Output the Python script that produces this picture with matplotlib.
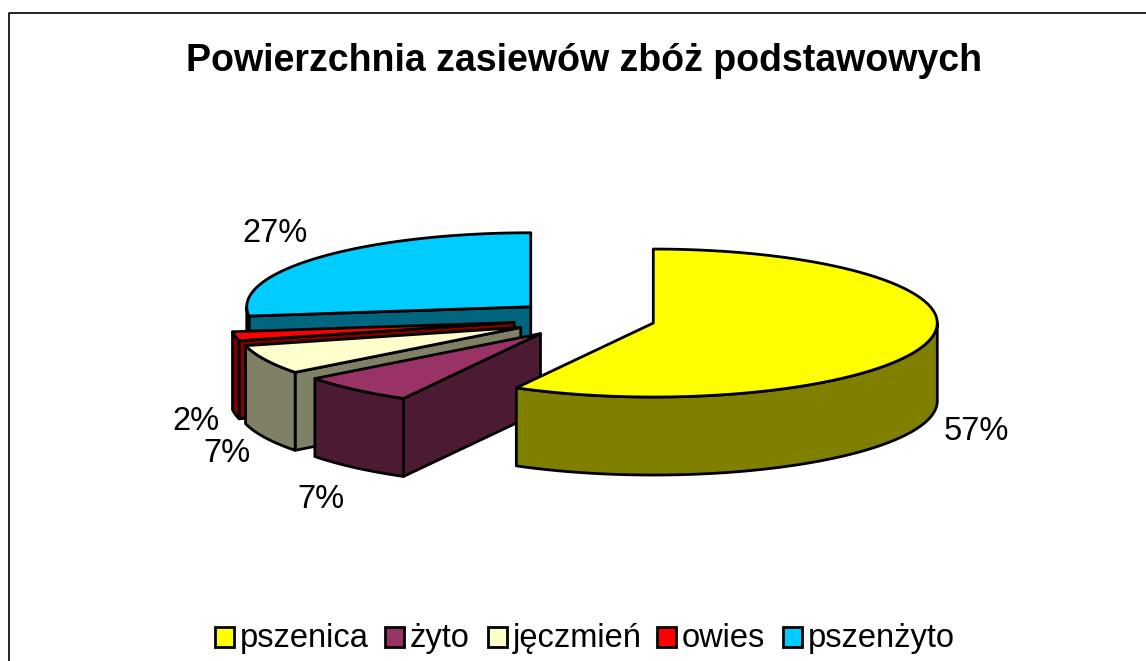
import numpy as np
import matplotlib
matplotlib.use("Agg")
import matplotlib.pyplot as plt
from matplotlib.patches import Polygon, Rectangle

plt.rcParams['font.family'] = ['Liberation Sans', 'DejaVu Sans']

# Data
categories = ["pszenica", "żyto", "jęczmień", "owies", "pszenżyto"]
values = [57, 7, 7, 2, 27]
value_labels = ["57%", "7%", "7%", "2%", "27%"]
title = "Powierzchnia zasiewów zbóż podstawowych"

top_colors = ["#FFFF00", "#993366", "#FFFFCC", "#FF0000", "#00CCFF"]
side_colors = ["#808000", "#4D1A33", "#808066", "#800000", "#006680"]

# Pie layout, in pixels of the 1146x661 picture
center_x, center_y = 584, 319
rx, ry = 284, 74
depth = 78
explode = 0.25
warp1, warp2 = 2.8, 1.5  # perspective skew of the angles, degrees
label_pos = [(976, 431), (321, 500), (227, 454), (196, 422), (275, 234)]
legend_x = [215, 385, 488, 657, 783]
edge_lw = 2.0


def project(cx, cy, t):
    # t is degrees clockwise from 12 o'clock
    t = np.asarray(t, dtype=float)
    skew = warp1 * np.sin(np.radians(2 * t)) + warp2 * np.sin(np.radians(4 * t))
    t2 = np.radians(t + skew)
    return cx + rx * np.sin(t2), cy - ry * np.cos(t2)


def arc(cx, cy, a, b, n=80):
    x, y = project(cx, cy, np.linspace(a, b, n))
    return np.column_stack([x, y])


def face(ax, pts, color, z):
    ax.add_patch(Polygon(pts, closed=True, facecolor=color, edgecolor="black",
                         linewidth=edge_lw, joinstyle="round", zorder=z))


fig = plt.figure(figsize=(11.46, 6.61), dpi=100)
ax = fig.add_axes([0, 0, 1, 1])
ax.set_xlim(0, 1146)
ax.set_ylim(661, 0)
ax.axis("off")

# Chart frame, cut off by the picture at the bottom
ax.plot([8.5, 8.5, 1146], [661, 12.5, 12.5], color="black", lw=1.2, zorder=1)

fracs = np.array(values) / sum(values) * 360
ends = np.cumsum(fracs)
starts = ends - fracs

# back to front: pszenzyto, owies, jeczmien, zyto, pszenica
order = [4, 3, 2, 1, 0]
z = 2
for i in order:
    a, b = starts[i], ends[i]
    mid = np.radians((a + b) / 2)
    cx = center_x + explode * rx * np.sin(mid)
    cy = center_y - explode * ry * np.cos(mid)
    apex = np.array([cx, cy])
    down = np.array([0, depth])

    # radial faces, only those turned toward the viewer
    if np.sin(np.radians(a)) < -1e-6:
        p = np.array(project(cx, cy, a))
        face(ax, [apex, p, p + down, apex + down], side_colors[i], z)
        z += 1
    if np.sin(np.radians(b)) > 1e-6:
        p = np.array(project(cx, cy, b))
        face(ax, [apex, p, p + down, apex + down], side_colors[i], z)
        z += 1

    # outer rim
    lo, hi = max(a, 90), min(b, 270)
    if hi > lo:
        rim = arc(cx, cy, lo, hi)
        face(ax, np.vstack([rim, (rim + down)[::-1]]), side_colors[i], z)
        z += 1

    # top
    face(ax, np.vstack([apex, arc(cx, cy, a, b)]), top_colors[i], z)
    z += 1

for lab, (x, y) in zip(value_labels, label_pos):
    ax.text(x, y, lab, fontsize=23.5, ha="center", va="center", color="black", zorder=50)

ax.text(584, 61, title, fontsize=27, fontweight="bold", ha="center", va="center", color="black")

# Legend
for name, col, x in zip(categories, top_colors, legend_x):
    ax.add_patch(Rectangle((x, 627), 19, 20, facecolor=col, edgecolor="black", linewidth=2))
    ax.text(x + 25, 647, name, fontsize=23.5, ha="left", va="baseline", color="black")

fig.savefig("out.png", dpi=100)
